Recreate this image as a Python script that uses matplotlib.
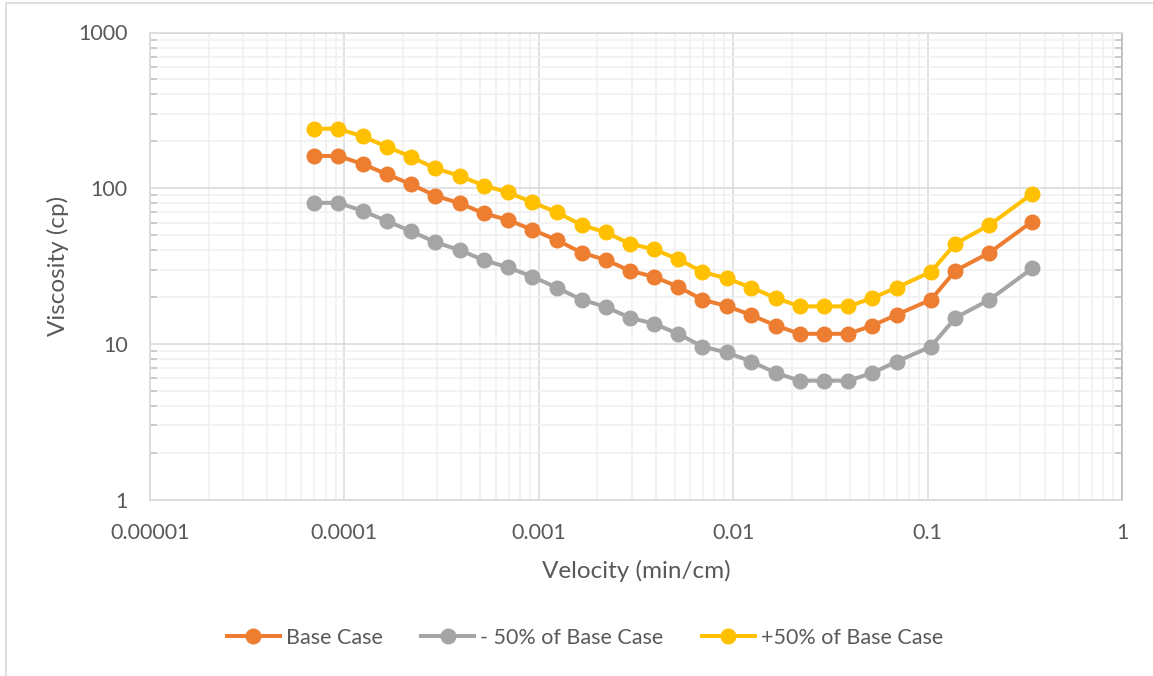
from matplotlib import pyplot as plt
from matplotlib.ticker import LogLocator, FixedLocator, FixedFormatter, NullFormatter
from matplotlib.patches import Rectangle
import numpy as np

velocity = [6.95e-5, 9.3e-5, 1.24e-4, 1.65e-4, 2.2e-4, 2.93e-4, 3.92e-4, 5.2e-4,
            6.95e-4, 9.28e-4, 1.235e-3, 1.66e-3, 2.21e-3, 2.94e-3, 3.9e-3, 5.2e-3,
            6.95e-3, 9.25e-3, 1.24e-2, 1.655e-2, 2.2e-2, 2.93e-2, 3.91e-2, 5.2e-2,
            6.95e-2, 0.104, 0.139, 0.208, 0.345]
base_case = [161, 161, 143, 123, 106, 89.5, 80, 69, 62.5, 54, 46.5, 38.5, 34.6, 29.5,
             27, 23.3, 19.2, 17.5, 15.3, 13.1, 11.6, 11.6, 11.6, 13.1, 15.4, 19.2,
             29.5, 38.5, 61]
minus_50 = [80.5, 80.5, 71.5, 61.5, 53, 45, 40, 34.5, 31, 27, 23, 19.2, 17.3, 14.7,
            13.5, 11.6, 9.6, 8.8, 7.7, 6.5, 5.8, 5.8, 5.8, 6.5, 7.7, 9.6, 14.7, 19.2,
            30.5]
plus_50 = [241, 241, 215, 185, 159, 134, 120, 104, 94, 81, 70, 58, 52, 44, 40.5, 35,
           29, 26.3, 23, 19.7, 17.4, 17.4, 17.4, 19.7, 23, 29, 44, 58, 92]

x_ticks = [1e-5, 1e-4, 1e-3, 1e-2, 1e-1, 1]
x_labels = ["0.00001", "0.0001", "0.001", "0.01", "0.1", "1"]
y_ticks = [1, 10, 100, 1000]
y_labels = ["1", "10", "100", "1000"]

plt.rcParams['font.family'] = ['Lato', 'DejaVu Sans']
txt = '#595959'

fig = plt.figure(figsize=(11.53, 6.76), dpi=100)
ax = fig.add_axes([150 / 1153, 1 - 499.5 / 676, 972 / 1153, 467 / 676])

# outer chart border (only top and left edges visible in the crop)
fig.patches.append(Rectangle((6 / 1153, -0.05), 1.1, 1 - 3 / 676 + 0.05,
                             transform=fig.transFigure, fill=False,
                             edgecolor='#d9d9d9', linewidth=1.2))

series = [(base_case, '#ED7D31', 'Base Case'),
          (minus_50, '#A5A5A5', '- 50% of Base Case'),
          (plus_50, '#FFC000', '+50% of Base Case')]
for vals, col, lab in series:
    ax.plot(velocity, vals, color=col, linewidth=2.9, marker='o', markersize=10.5,
            label=lab, zorder=3)

ax.set_xscale('log')
ax.set_yscale('log')
ax.set_xlim(1e-5, 1)
ax.set_ylim(1, 1000)

ax.xaxis.set_major_locator(FixedLocator(x_ticks))
ax.xaxis.set_major_formatter(FixedFormatter(x_labels))
ax.yaxis.set_major_locator(FixedLocator(y_ticks))
ax.yaxis.set_major_formatter(FixedFormatter(y_labels))
ax.xaxis.set_minor_locator(LogLocator(base=10, subs=np.arange(2, 10), numticks=20))
ax.yaxis.set_minor_locator(LogLocator(base=10, subs=np.arange(2, 10), numticks=20))
ax.xaxis.set_minor_formatter(NullFormatter())
ax.yaxis.set_minor_formatter(NullFormatter())

ax.grid(which='major', color='#d9d9d9', linewidth=1.1, zorder=0)
ax.grid(which='minor', color='#f0f0f0', linewidth=1.1, zorder=0)
ax.set_axisbelow(True)

ax.tick_params(which='both', length=0, labelcolor=txt, labelsize=15.5)
ax.tick_params(axis='x', pad=17)
ax.tick_params(axis='y', pad=16)
ax.tick_params(axis='y', which='minor', right=True, direction='in', length=5,
               color='#bfbfbf', width=1.1)
for s in ['top', 'left', 'bottom']:
    ax.spines[s].set_color('#d9d9d9')
    ax.spines[s].set_linewidth(1.2)
ax.spines['right'].set_color('#bfbfbf')
ax.spines['right'].set_linewidth(1.3)

ax.set_xlabel('Velocity (min/cm)', color=txt, fontsize=17.5, labelpad=12)
ax.set_ylabel('Viscosity (cp)', color=txt, fontsize=17.5, labelpad=7)

leg = fig.legend(loc='center', bbox_to_anchor=(585 / 1153, 1 - 638 / 676), ncol=3,
                 frameon=False, fontsize=15.5, labelcolor=txt, handlelength=2.45,
                 handletextpad=0.28, columnspacing=1.8)

fig.savefig('out.png', dpi=100)
